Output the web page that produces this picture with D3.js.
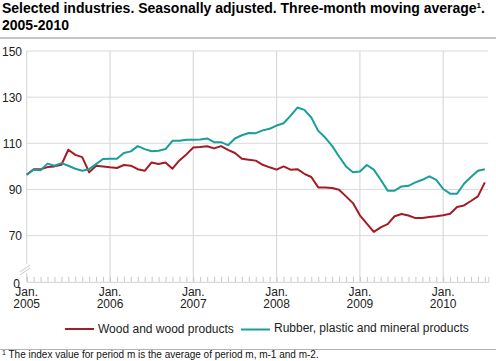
<!DOCTYPE html>
<html>
<head>
<meta charset="utf-8">
<script src="https://cdn.jsdelivr.net/npm/d3@7"></script>
<style>
  body { margin: 0; background: #fff; }
  svg { display: block; font-family: "Liberation Sans", Arial, sans-serif; }
</style>
</head>
<body>
<svg id="chart" width="496" height="361"></svg>
<script>
// months from Jan. 2005 to June 2010
const startYear = 2005;
const yearLabels = ["2005", "2006", "2007", "2008", "2009", "2010"];
const yTicks = [50, 70, 90, 110, 130, 150];

const wood = [
  96.4, 98.8, 98.8, 99.7, 100.0, 100.7, 107.2, 105.0, 104.0, 97.4, 100.3, 100.0,
  99.6, 99.3, 100.6, 100.3, 98.8, 98.1, 101.7, 101.0, 101.7, 99.0, 102.6, 105.2,
  108.2, 108.4, 108.7, 107.8, 108.8, 107.2, 105.8, 103.3, 102.9, 102.5, 100.7, 99.6,
  98.6, 100.0, 98.6, 98.8, 96.8, 95.4, 90.9, 90.9, 90.6, 89.9, 87.0, 84.1,
  78.8, 75.2, 71.6, 73.6, 75.0, 78.4, 79.4, 78.7, 77.6, 77.6, 78.1, 78.4,
  78.8, 79.5, 82.4, 83.1, 85.0, 87.0, 93.1
];
const rubber = [
  96.4, 98.6, 98.3, 101.2, 100.3, 101.4, 100.3, 99.0, 98.1, 98.8, 101.0, 103.2,
  103.3, 103.3, 105.8, 106.5, 108.8, 107.5, 106.6, 106.8, 107.5, 111.1, 111.1, 111.5,
  111.5, 111.7, 112.1, 110.5, 110.5, 109.2, 112.1, 113.5, 114.5, 114.4, 115.6, 116.3,
  117.7, 118.7, 121.9, 125.5, 124.5, 121.2, 115.4, 112.5, 108.9, 104.3, 100.0, 97.5,
  97.8, 100.6, 98.6, 94.2, 89.5, 89.5, 91.3, 91.6, 93.1, 94.2, 95.7, 94.2,
  90.2, 88.2, 88.2, 92.5, 95.4, 98.1, 98.8
];
const seriesNames = ["Wood and wood products", "Rubber, plastic and mineral products"];
const seriesColors = ["#a31c25", "#1a9e9b"];

const svg = d3.select("#chart");

// title
svg.append("text").attr("x", 2).attr("y", 13)
  .attr("font-size", 14).attr("font-weight", "bold").attr("fill", "#000")
  .text("Selected industries. Seasonally adjusted. Three-month moving average")
  .append("tspan").attr("font-size", 8).attr("dy", -5).text("1")
  .append("tspan").attr("font-size", 14).attr("dy", 5).text(".");
svg.append("text").attr("x", 2).attr("y", 30)
  .attr("font-size", 14).attr("font-weight", "bold").text("2005-2010");
svg.append("line").attr("x1", 0).attr("x2", 496).attr("y1", 38).attr("y2", 38)
  .attr("stroke", "#c4c4c4").attr("stroke-width", 2);

const x = d3.scaleLinear().domain([0, 66.5]).range([26.7, 488.3]);
const y = d3.scaleLinear().domain([50, 150]).range([281.8, 51]);

// horizontal grid
svg.append("g").selectAll("line").data(yTicks.slice(1)).join("line")
  .attr("x1", x(0)).attr("x2", x(66.5))
  .attr("y1", d => y(d)).attr("y2", d => y(d))
  .attr("stroke", "#dadada").attr("stroke-width", 1);

// vertical grid at each January
svg.append("g").selectAll("line").data(d3.range(0, 61, 12)).join("line")
  .attr("x1", d => x(d)).attr("x2", d => x(d))
  .attr("y1", y(150)).attr("y2", y(50))
  .attr("stroke", "#dadada").attr("stroke-width", 1.2);

// bottom axis with monthly ticks
const xAxis = svg.append("g").attr("transform", `translate(0,${y(50)})`)
  .call(d3.axisBottom(x).tickValues(d3.range(0, 67)).tickSize(-5).tickFormat(""));
xAxis.select(".domain").attr("stroke", "#d0d0d0");
xAxis.selectAll(".tick line").attr("stroke", "#c8c8c8");

// year labels
const yl = svg.append("g").attr("font-size", 12).attr("fill", "#222").attr("text-anchor", "middle");
yearLabels.forEach((lab, i) => {
  const t = yl.append("text").attr("x", x(i * 12)).attr("y", 295.5);
  t.append("tspan").attr("x", x(i * 12)).text("Jan.");
  t.append("tspan").attr("x", x(i * 12)).attr("dy", 12).text(lab);
});

// y labels
svg.append("g").attr("font-size", 12).attr("fill", "#222").attr("text-anchor", "end")
  .selectAll("text").data(yTicks).join("text")
  .attr("x", d => d === 50 ? 20 : 22)
  .attr("y", d => y(d) + (d === 50 ? 6 : 4.5))
  .text(d => d === 50 ? "0" : d);

// axis break
svg.append("rect").attr("x", 22).attr("y", 264).attr("width", 10).attr("height", 9).attr("fill", "#fff");
[0, 3].forEach(o => {
  svg.append("line")
    .attr("x1", 20).attr("y1", 272 + o).attr("x2", 30).attr("y2", 265 + o)
    .attr("stroke", "#c8c8c8").attr("stroke-width", 1);
});

// lines
const line = d3.line().x((d, i) => x(i)).y(d => y(d));
[wood, rubber].forEach((s, k) => {
  svg.append("path").datum(s).attr("d", line)
    .attr("fill", "none").attr("stroke", seriesColors[k])
    .attr("stroke-width", 2).attr("stroke-linejoin", "round");
});

// legend
const legendPos = [{ x: 65, y: 329 }, { x: 241, y: 329.5 }];
seriesNames.forEach((name, k) => {
  const p = legendPos[k];
  svg.append("line").attr("x1", p.x).attr("x2", p.x + 29).attr("y1", p.y).attr("y2", p.y)
    .attr("stroke", seriesColors[k]).attr("stroke-width", 2);
  svg.append("text").attr("x", p.x + 33).attr("y", p.y + 4 - k * 1.5)
    .attr("font-size", 12).attr("fill", "#222").text(name);
});

// footnote
svg.append("line").attr("x1", 0).attr("x2", 496).attr("y1", 349.5).attr("y2", 349.5)
  .attr("stroke", "#b4b4b4").attr("stroke-width", 1.2);
const fn = svg.append("text").attr("x", 2).attr("y", 358).attr("font-size", 10).attr("fill", "#111");
fn.append("tspan").attr("font-size", 7).attr("dy", -3).text("1");
fn.append("tspan").attr("dy", 3).text(" The index value for period m is the average of period m, m-1 and m-2.");
</script>
</body>
</html>
